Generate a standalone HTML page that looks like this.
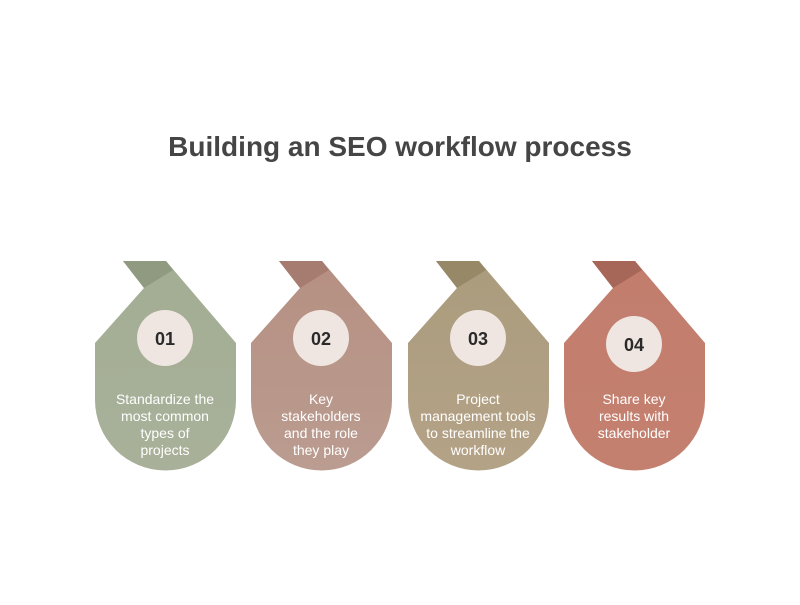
<!DOCTYPE html>
<html><head><meta charset="utf-8"><style>
html,body{margin:0;padding:0;background:#fff;}
body{width:800px;height:600px;overflow:hidden;font-family:"Liberation Sans",sans-serif;}
</style></head><body>
<svg width="800" height="600" xmlns="http://www.w3.org/2000/svg" font-family="Liberation Sans, sans-serif">
<defs>
<linearGradient id="g1" x1="0" y1="0" x2="0" y2="1"><stop offset="0" stop-color="#a3ae94"/><stop offset="1" stop-color="#a8b099"/></linearGradient>
<linearGradient id="g2" x1="0" y1="0" x2="0" y2="1"><stop offset="0" stop-color="#b59082"/><stop offset="1" stop-color="#bb9c90"/></linearGradient>
<linearGradient id="g3" x1="0" y1="0" x2="0" y2="1"><stop offset="0" stop-color="#ab9c7e"/><stop offset="1" stop-color="#b4a286"/></linearGradient>
<linearGradient id="g4" x1="0" y1="0" x2="0" y2="1"><stop offset="0" stop-color="#c27d6d"/><stop offset="1" stop-color="#c4806f"/></linearGradient>
<g id="shape">
<path d="M0,343 L49,288 L28,261 L71,261 L141,343 L141,400 A70.5,70.5 0 0 1 0,400 Z"/>
</g>
</defs>
<text x="400" y="156" text-anchor="middle" font-size="28" font-weight="bold" fill="#454545">Building an SEO workflow process</text>

<g transform="translate(95,0)">
<use href="#shape" fill="url(#g1)"/>
<polygon points="28,261 71,261 78,270 49,288" fill="#8f9a80"/>
<circle cx="70" cy="338" r="28" fill="#efe5e1"/>
<text x="70" y="345" text-anchor="middle" font-size="18" font-weight="bold" fill="#2a2a2a">01</text>
<g fill="#fff" font-size="14" text-anchor="middle">
<text x="70" y="404">Standardize the</text><text x="70" y="421">most common</text><text x="70" y="438">types of</text><text x="70" y="455">projects</text></g>
</g>

<g transform="translate(251,0)">
<use href="#shape" fill="url(#g2)"/>
<polygon points="28,261 71,261 78,270 49,288" fill="#a67b70"/>
<circle cx="70" cy="338" r="28" fill="#efe5e1"/>
<text x="70" y="345" text-anchor="middle" font-size="18" font-weight="bold" fill="#2a2a2a">02</text>
<g fill="#fff" font-size="14" text-anchor="middle">
<text x="70" y="404">Key</text><text x="70" y="421">stakeholders</text><text x="70" y="438">and the role</text><text x="70" y="455">they play</text></g>
</g>

<g transform="translate(408,0)">
<use href="#shape" fill="url(#g3)"/>
<polygon points="28,261 71,261 78,270 49,288" fill="#978868"/>
<circle cx="70" cy="338" r="28" fill="#efe5e1"/>
<text x="70" y="345" text-anchor="middle" font-size="18" font-weight="bold" fill="#2a2a2a">03</text>
<g fill="#fff" font-size="14" text-anchor="middle">
<text x="70" y="404">Project</text><text x="70" y="421">management tools</text><text x="70" y="438">to streamline the</text><text x="70" y="455">workflow</text></g>
</g>

<g transform="translate(564,0)">
<use href="#shape" fill="url(#g4)"/>
<polygon points="28,261 71,261 78,270 49,288" fill="#a66658"/>
<circle cx="70" cy="344" r="28" fill="#efe5e1"/>
<text x="70" y="351" text-anchor="middle" font-size="18" font-weight="bold" fill="#2a2a2a">04</text>
<g fill="#fff" font-size="14" text-anchor="middle">
<text x="70" y="404">Share key</text><text x="70" y="421">results with</text><text x="70" y="438">stakeholder</text></g>
</g>
</svg>
</body></html>
